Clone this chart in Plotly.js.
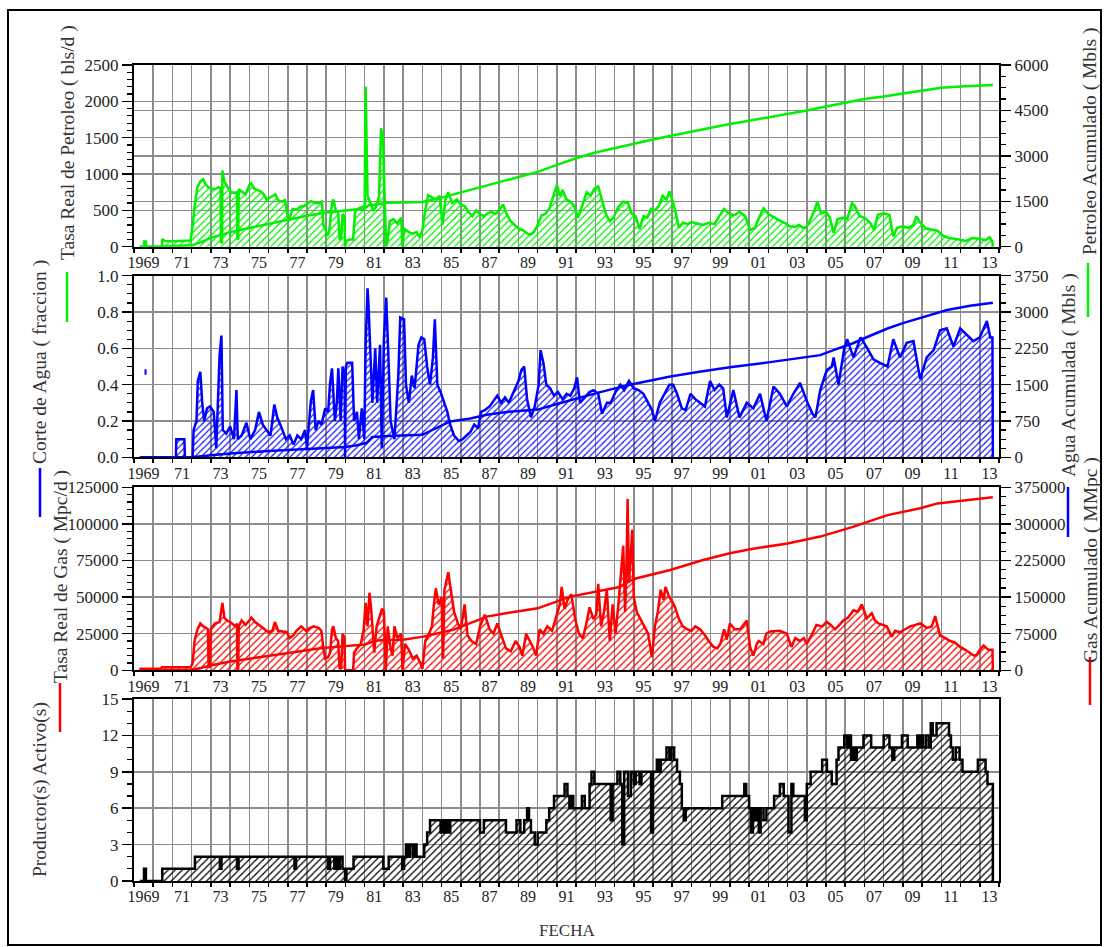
<!DOCTYPE html>
<html>
<head>
<meta charset="utf-8">
<script src="https://cdn.plot.ly/plotly-3.0.1.min.js"></script>
<style>
html,body{margin:0;padding:0;background:#fff;}
#chart{width:1104px;height:947px;}
</style>
</head>
<body>
<div id="chart"></div>
<script>
// ---------------- DATA ----------------
// x tick labels (centered in each odd year)
const yearLabelPos = [1969.5,1971.5,1973.5,1975.5,1977.5,1979.5,1981.5,1983.5,1985.5,1987.5,1989.5,1991.5,1993.5,1995.5,1997.5,1999.5,2001.5,2003.5,2005.5,2007.5,2009.5,2011.5,2013.5];
const yearLabelText = ['1969','71','73','75','77','79','81','83','85','87','89','91','93','95','97','99','01','03','05','07','09','11','13'];

// Tasa Real de Petroleo (bls/d) [year, value]
const oilRate = [[1969.30,0],[1969.52,0],[1969.53,70],[1969.62,70],[1969.63,0],[1970.46,0],[1970.47,105],[1970.60,80],[1971.00,75],[1971.50,80],[1971.95,85],[1972.05,300],[1972.15,550],[1972.30,820],[1972.45,900],[1972.60,930],[1972.70,870],[1972.85,820],[1973.00,800],[1973.20,790],[1973.40,820],[1973.50,810],[1973.53,50],[1973.58,60],[1973.60,1050],[1973.70,900],[1973.85,820],[1974.00,760],[1974.20,740],[1974.36,750],[1974.38,100],[1974.42,110],[1974.45,790],[1974.60,760],[1974.80,720],[1975.00,850],[1975.10,870],[1975.25,800],[1975.40,780],[1975.60,760],[1975.75,720],[1975.90,650],[1976.10,680],[1976.35,720],[1976.50,640],[1976.70,620],[1976.85,640],[1977.00,420],[1977.10,400],[1977.25,520],[1977.45,510],[1977.65,550],[1977.85,560],[1978.05,600],[1978.20,630],[1978.40,600],[1978.60,600],[1978.78,620],[1978.85,300],[1978.95,250],[1979.05,150],[1979.15,200],[1979.30,600],[1979.37,650],[1979.50,500],[1979.62,480],[1979.70,100],[1979.78,120],[1979.85,450],[1979.95,420],[1979.98,0],[1980.05,80],[1980.20,100],[1980.40,100],[1980.50,480],[1980.65,520],[1980.85,540],[1981.00,560],[1981.05,2200],[1981.10,1500],[1981.15,700],[1981.30,600],[1981.45,500],[1981.60,550],[1981.75,700],[1981.85,1630],[1981.95,1500],[1982.05,600],[1982.12,0],[1982.20,100],[1982.30,350],[1982.50,380],[1982.70,320],[1982.90,400],[1982.97,0],[1983.05,250],[1983.30,200],[1983.50,180],[1983.70,200],[1983.85,130],[1984.00,220],[1984.15,500],[1984.30,710],[1984.50,680],[1984.70,650],[1984.90,700],[1985.05,300],[1985.20,650],[1985.35,750],[1985.55,600],[1985.80,650],[1986.00,580],[1986.20,560],[1986.40,480],[1986.60,420],[1986.80,500],[1987.00,450],[1987.20,420],[1987.40,460],[1987.60,480],[1987.80,450],[1988.00,500],[1988.20,580],[1988.40,440],[1988.60,350],[1988.80,300],[1989.00,250],[1989.20,230],[1989.40,200],[1989.60,160],[1989.80,200],[1990.00,300],[1990.20,430],[1990.40,450],[1990.60,520],[1990.80,680],[1991.00,850],[1991.15,700],[1991.30,780],[1991.50,650],[1991.70,620],[1991.90,560],[1992.10,400],[1992.30,550],[1992.55,750],[1992.75,700],[1992.95,800],[1993.15,830],[1993.35,650],[1993.55,450],[1993.75,350],[1993.95,400],[1994.20,550],[1994.45,620],[1994.70,600],[1994.90,450],[1995.10,420],[1995.30,240],[1995.50,420],[1995.70,400],[1995.90,520],[1996.10,500],[1996.30,560],[1996.50,700],[1996.70,650],[1996.85,760],[1997.00,650],[1997.20,450],[1997.35,260],[1997.55,330],[1997.80,310],[1998.00,340],[1998.30,320],[1998.60,300],[1998.90,330],[1999.20,310],[1999.45,420],[1999.70,520],[1999.90,470],[2000.20,430],[2000.50,480],[2000.80,420],[2001.05,230],[2001.30,260],[2001.55,420],[2001.75,530],[2002.00,450],[2002.30,400],[2002.60,360],[2002.90,320],[2003.10,280],[2003.40,270],[2003.60,300],[2003.80,260],[2004.00,270],[2004.20,380],[2004.40,500],[2004.55,620],[2004.75,460],[2005.00,480],[2005.20,400],[2005.40,190],[2005.60,380],[2005.90,400],[2006.10,380],[2006.35,600],[2006.50,560],[2006.75,420],[2007.00,400],[2007.30,330],[2007.50,230],[2007.70,440],[2008.00,460],[2008.30,440],[2008.50,140],[2008.70,260],[2009.00,280],[2009.30,260],[2009.55,300],[2009.70,420],[2009.90,330],[2010.20,250],[2010.50,230],[2010.80,220],[2011.10,150],[2011.40,120],[2011.70,110],[2012.00,90],[2012.30,80],[2012.60,120],[2013.00,110],[2013.30,90],[2013.50,130],[2013.65,80],[2013.68,0]];

// Petroleo Acumulado (Mbls)
const oilCum = [[1969.30,0],[1970.50,5],[1972.00,45],[1972.50,150],[1973.00,290],[1973.50,390],[1974.00,480],[1975.00,620],[1976.00,760],[1977.00,900],[1978.00,1020],[1979.00,1130],[1980.00,1200],[1980.50,1220],[1981.00,1260],[1981.20,1360],[1981.90,1430],[1982.20,1450],[1983.00,1460],[1984.00,1480],[1985.00,1620],[1986.00,1790],[1987.00,1960],[1988.00,2130],[1989.00,2300],[1990.00,2470],[1991.00,2700],[1992.00,2920],[1993.00,3110],[1994.00,3260],[1995.00,3400],[1996.00,3540],[1997.00,3670],[1998.00,3800],[1999.00,3920],[2000.00,4050],[2001.00,4160],[2002.00,4270],[2003.00,4380],[2004.00,4500],[2005.00,4630],[2006.00,4760],[2007.00,4880],[2008.00,4960],[2009.00,5060],[2010.00,5160],[2011.00,5250],[2012.00,5290],[2013.00,5320],[2013.68,5340]];

// Corte de Agua (fraccion)
const waterCut = [[1969.30,0],[1971.18,0],[1971.20,0.10],[1971.62,0.10],[1971.65,0],[1972.05,0],[1972.10,0.15],[1972.25,0.20],[1972.32,0.42],[1972.45,0.47],[1972.55,0.30],[1972.65,0.20],[1972.80,0.27],[1972.95,0.28],[1973.15,0.25],[1973.28,0.05],[1973.35,0.26],[1973.45,0.56],[1973.55,0.67],[1973.62,0.15],[1973.80,0.13],[1974.00,0.17],[1974.20,0.10],[1974.33,0.37],[1974.40,0.10],[1974.60,0.12],[1974.85,0.19],[1975.05,0.10],[1975.30,0.15],[1975.50,0.25],[1975.70,0.18],[1975.90,0.15],[1976.10,0.12],[1976.30,0.29],[1976.45,0.22],[1976.65,0.17],[1976.90,0.10],[1977.10,0.12],[1977.30,0.07],[1977.50,0.12],[1977.70,0.10],[1977.90,0.15],[1978.00,0.05],[1978.20,0.31],[1978.32,0.37],[1978.45,0.15],[1978.60,0.20],[1978.75,0.18],[1978.95,0.27],[1979.10,0.25],[1979.20,0.41],[1979.30,0.49],[1979.45,0.20],[1979.55,0.30],[1979.63,0.49],[1979.75,0.20],[1979.85,0.50],[1979.96,0.45],[1979.98,0],[1980.02,0.50],[1980.10,0.52],[1980.35,0.52],[1980.45,0.20],[1980.60,0.25],[1980.70,0.10],[1980.85,0.27],[1980.98,0.10],[1981.05,0.62],[1981.15,0.93],[1981.20,0.84],[1981.30,0.55],[1981.40,0.30],[1981.55,0.60],[1981.65,0.30],[1981.80,0.62],[1981.89,0.05],[1982.00,0.65],[1982.12,0.88],[1982.22,0.60],[1982.35,0.20],[1982.55,0.10],[1982.75,0.45],[1982.85,0.77],[1983.05,0.76],[1983.15,0.40],[1983.30,0.30],[1983.45,0.45],[1983.60,0.38],[1983.80,0.62],[1983.95,0.66],[1984.10,0.65],[1984.25,0.50],[1984.40,0.40],[1984.55,0.55],[1984.65,0.76],[1984.78,0.40],[1984.95,0.36],[1985.15,0.30],[1985.30,0.25],[1985.45,0.18],[1985.65,0.12],[1985.90,0.09],[1986.10,0.10],[1986.30,0.12],[1986.50,0.14],[1986.70,0.18],[1986.90,0.16],[1987.05,0.25],[1987.25,0.26],[1987.50,0.28],[1987.70,0.31],[1987.90,0.34],[1988.10,0.30],[1988.30,0.33],[1988.50,0.30],[1988.75,0.36],[1989.00,0.42],[1989.15,0.48],[1989.30,0.50],[1989.45,0.32],[1989.65,0.22],[1989.85,0.28],[1990.05,0.40],[1990.15,0.59],[1990.30,0.52],[1990.45,0.40],[1990.65,0.38],[1990.85,0.34],[1991.05,0.36],[1991.30,0.32],[1991.50,0.35],[1991.70,0.34],[1991.90,0.38],[1992.05,0.44],[1992.20,0.30],[1992.45,0.33],[1992.70,0.36],[1992.90,0.37],[1993.15,0.35],[1993.35,0.24],[1993.60,0.30],[1993.80,0.30],[1994.05,0.36],[1994.30,0.40],[1994.50,0.37],[1994.75,0.42],[1995.00,0.38],[1995.25,0.37],[1995.50,0.35],[1995.75,0.30],[1995.95,0.26],[1996.10,0.20],[1996.35,0.30],[1996.60,0.35],[1996.85,0.40],[1997.05,0.40],[1997.25,0.35],[1997.50,0.27],[1997.70,0.26],[1997.95,0.35],[1998.20,0.32],[1998.45,0.30],[1998.70,0.28],[1998.97,0.42],[1999.20,0.37],[1999.45,0.40],[1999.65,0.38],[1999.84,0.22],[2000.00,0.30],[2000.18,0.37],[2000.50,0.22],[2000.88,0.30],[2001.22,0.27],[2001.57,0.35],[2001.90,0.20],[2002.27,0.39],[2002.60,0.35],[2002.96,0.28],[2003.30,0.35],[2003.65,0.41],[2004.00,0.31],[2004.30,0.24],[2004.45,0.22],[2004.70,0.37],[2005.04,0.48],[2005.30,0.50],[2005.40,0.55],[2005.65,0.40],[2005.95,0.60],[2006.10,0.65],[2006.43,0.55],[2006.80,0.66],[2007.10,0.61],[2007.47,0.54],[2007.80,0.52],[2008.20,0.50],[2008.50,0.65],[2008.85,0.55],[2009.20,0.63],[2009.55,0.64],[2009.90,0.43],[2010.24,0.55],[2010.60,0.59],[2010.93,0.70],[2011.28,0.71],[2011.63,0.61],[2011.98,0.71],[2012.30,0.68],[2012.67,0.64],[2013.00,0.66],[2013.37,0.75],[2013.55,0.66],[2013.66,0.66],[2013.68,0]];
const waterCutIsolated = [[1969.60,0.47]];

// Agua Acumulada (Mbls)
const waterCum = [[1969.30,0],[1972.00,0],[1973.00,40],[1974.00,80],[1976.00,130],[1978.00,170],[1979.00,190],[1980.00,215],[1980.60,250],[1981.10,300],[1981.40,420],[1982.20,440],[1984.00,465],[1984.75,605],[1985.45,740],[1986.50,800],[1987.35,880],[1988.50,940],[1990.00,985],[1991.00,1100],[1992.00,1210],[1993.10,1330],[1994.80,1500],[1996.90,1670],[1998.50,1770],[2000.00,1860],[2002.00,1960],[2004.00,2060],[2004.70,2110],[2005.50,2230],[2006.40,2355],[2007.30,2510],[2008.20,2660],[2009.00,2770],[2009.90,2870],[2011.30,3040],[2012.50,3130],[2013.68,3190]];

// Tasa Real de Gas (Mpc/d)
const gasRate = [[1969.30,0],[1969.35,1000],[1970.40,1000],[1970.45,2000],[1971.95,2000],[1972.05,5000],[1972.15,20000],[1972.30,28000],[1972.45,32000],[1972.60,30000],[1972.75,29000],[1972.85,28000],[1972.88,2000],[1972.95,3000],[1973.00,28000],[1973.20,32000],[1973.45,33000],[1973.60,46000],[1973.70,36000],[1973.85,34000],[1974.00,33000],[1974.30,30000],[1974.36,32000],[1974.38,0],[1974.42,1000],[1974.45,30000],[1974.60,34000],[1974.80,31000],[1975.00,34000],[1975.10,36000],[1975.30,33000],[1975.50,31000],[1975.75,28000],[1976.00,26000],[1976.20,27000],[1976.33,33000],[1976.50,27000],[1976.70,26500],[1976.95,26000],[1977.10,22000],[1977.30,24000],[1977.45,27000],[1977.70,30000],[1977.95,27000],[1978.15,29000],[1978.35,30000],[1978.60,29000],[1978.75,27000],[1978.85,15000],[1978.95,8000],[1979.10,9000],[1979.20,12000],[1979.30,28000],[1979.37,30000],[1979.50,22000],[1979.62,20000],[1979.70,1000],[1979.78,2000],[1979.85,25000],[1979.95,22000],[1979.98,0],[1980.40,0],[1980.45,12000],[1980.60,15000],[1980.80,18000],[1980.95,28000],[1981.05,46000],[1981.15,30000],[1981.25,53000],[1981.35,40000],[1981.50,12000],[1981.62,30000],[1981.75,35000],[1981.90,42000],[1982.00,40000],[1982.10,0],[1982.20,30000],[1982.35,15000],[1982.45,10000],[1982.55,30000],[1982.70,22000],[1982.90,25000],[1982.97,0],[1983.10,18000],[1983.30,14000],[1983.50,8000],[1983.70,10000],[1983.90,5000],[1984.00,1000],[1984.15,20000],[1984.35,25000],[1984.50,30000],[1984.60,45000],[1984.70,56000],[1984.85,45000],[1985.00,50000],[1985.08,8000],[1985.15,55000],[1985.35,67000],[1985.50,55000],[1985.65,40000],[1985.85,32000],[1986.00,28000],[1986.20,45000],[1986.35,24000],[1986.55,20000],[1986.80,18000],[1987.00,30000],[1987.25,38000],[1987.50,28000],[1987.70,25000],[1987.90,32000],[1988.10,24000],[1988.35,15000],[1988.60,13000],[1988.85,20000],[1989.05,16000],[1989.20,10000],[1989.40,25000],[1989.60,20000],[1989.75,16000],[1989.92,10000],[1990.10,28000],[1990.30,25000],[1990.50,30000],[1990.75,27000],[1991.00,39000],[1991.15,45000],[1991.25,57000],[1991.40,42000],[1991.55,48000],[1991.75,52000],[1991.95,35000],[1992.15,25000],[1992.35,22000],[1992.50,30000],[1992.70,43000],[1992.90,35000],[1993.05,38000],[1993.15,59000],[1993.30,30000],[1993.45,40000],[1993.60,55000],[1993.75,20000],[1993.90,45000],[1994.05,25000],[1994.20,45000],[1994.30,62000],[1994.45,85000],[1994.55,40000],[1994.62,70000],[1994.68,117000],[1994.75,60000],[1994.85,80000],[1994.92,96000],[1995.00,50000],[1995.15,40000],[1995.35,35000],[1995.55,30000],[1995.75,25000],[1995.94,9000],[1996.10,30000],[1996.25,40000],[1996.40,55000],[1996.55,48000],[1996.65,57000],[1996.85,50000],[1997.00,47000],[1997.15,43000],[1997.35,35000],[1997.55,30000],[1997.80,28000],[1998.00,27000],[1998.20,30000],[1998.45,28000],[1998.70,24000],[1998.90,20000],[1999.14,16000],[1999.35,15000],[1999.50,18000],[1999.70,28000],[1999.84,21000],[2000.00,32000],[2000.25,28000],[2000.53,28000],[2000.88,34000],[2001.05,16000],[2001.22,10000],[2001.40,18000],[2001.50,20000],[2001.74,18000],[2001.90,25000],[2002.10,26500],[2002.35,27000],[2002.60,27000],[2002.96,25000],[2003.20,16000],[2003.40,22000],[2003.65,20000],[2003.85,22000],[2004.00,18000],[2004.25,24000],[2004.50,31000],[2004.80,30000],[2005.04,33000],[2005.25,31000],[2005.47,28000],[2005.70,31000],[2005.90,34000],[2006.15,36000],[2006.43,41000],[2006.65,40000],[2006.86,45000],[2007.00,40000],[2007.12,35500],[2007.38,39000],[2007.55,34000],[2007.73,32000],[2007.95,31000],[2008.16,30000],[2008.42,23000],[2008.60,27000],[2008.85,26000],[2009.10,28000],[2009.38,30000],[2009.65,31000],[2009.90,32000],[2010.24,29000],[2010.50,30000],[2010.68,37000],[2010.80,30000],[2010.93,24000],[2011.20,22000],[2011.46,20000],[2011.70,19000],[2011.98,16000],[2012.25,14000],[2012.50,12000],[2012.70,10000],[2012.84,10500],[2013.00,14000],[2013.20,17000],[2013.45,14000],[2013.66,14000],[2013.68,0]];

// Gas Acumulado (MMpc)
const gasCum = [[1969.30,0],[1972.00,1000],[1972.50,5000],[1973.10,11000],[1974.00,18000],[1975.00,24000],[1976.00,30000],[1977.10,36000],[1978.00,41000],[1978.70,45000],[1979.50,48000],[1980.10,50000],[1980.60,51000],[1981.00,53000],[1981.50,60000],[1982.00,62000],[1983.00,62500],[1984.05,69000],[1985.60,83000],[1986.50,97000],[1987.35,110000],[1988.50,118000],[1990.00,127000],[1991.70,151000],[1993.40,164600],[1994.20,170000],[1994.90,185000],[1995.15,188500],[1996.90,205600],[1998.60,226000],[2000.00,240000],[2001.20,249000],[2003.00,260000],[2004.70,274000],[2006.40,294000],[2008.20,318000],[2009.90,332000],[2010.80,342000],[2011.60,345600],[2013.68,354500]];

// Productor(s) Activo(s) (step data)
const producers = [[1969.30,0],[1969.52,1],[1969.62,0],[1970.47,1],[1972.17,2],[1973.47,1],[1973.55,2],[1974.36,1],[1974.44,2],[1977.35,1],[1977.43,2],[1979.10,1],[1979.20,2],[1979.42,1],[1979.50,2],[1979.62,1],[1979.70,2],[1979.85,1],[1979.98,0],[1980.05,1],[1980.42,2],[1981.97,1],[1982.25,2],[1982.95,1],[1983.05,2],[1983.15,3],[1983.25,2],[1983.35,3],[1983.50,2],[1983.60,3],[1983.70,2],[1984.10,3],[1984.25,4],[1984.40,5],[1984.95,4],[1985.05,5],[1985.15,4],[1985.25,5],[1985.35,4],[1985.45,5],[1987.00,4],[1987.20,5],[1988.35,4],[1988.90,5],[1989.10,4],[1989.30,5],[1989.45,6],[1989.55,5],[1989.65,4],[1989.85,3],[1990.00,4],[1990.45,5],[1990.60,6],[1990.85,7],[1991.40,8],[1991.55,7],[1991.65,6],[1991.75,7],[1991.85,6],[1992.30,7],[1992.45,6],[1992.70,8],[1992.80,9],[1992.95,8],[1993.80,5],[1993.90,8],[1994.15,9],[1994.30,8],[1994.40,3],[1994.50,9],[1994.70,7],[1994.85,9],[1995.00,8],[1995.10,9],[1995.30,8],[1995.40,9],[1995.90,4],[1996.00,9],[1996.20,10],[1996.30,9],[1996.40,10],[1996.70,11],[1996.85,10],[1996.95,11],[1997.10,10],[1997.25,9],[1997.40,8],[1997.50,6],[1997.60,5],[1997.70,6],[1999.60,7],[2000.75,8],[2000.85,7],[2001.00,6],[2001.10,4],[2001.20,6],[2001.30,5],[2001.40,6],[2001.50,4],[2001.60,6],[2001.75,5],[2001.90,6],[2002.30,7],[2002.60,8],[2002.80,7],[2003.05,4],[2003.20,8],[2003.30,7],[2003.90,5],[2004.00,8],[2004.20,9],[2004.80,10],[2005.05,9],[2005.30,8],[2005.55,10],[2005.65,11],[2005.95,12],[2006.10,11],[2006.20,12],[2006.30,10],[2006.40,11],[2006.50,10],[2006.60,11],[2006.95,12],[2007.35,11],[2008.00,12],[2008.30,11],[2008.45,10],[2008.55,11],[2008.95,12],[2009.25,11],[2009.75,12],[2009.85,11],[2009.95,12],[2010.05,11],[2010.20,12],[2010.35,11],[2010.45,13],[2010.55,12],[2010.75,13],[2011.40,12],[2011.50,11],[2011.60,10],[2011.75,11],[2011.95,10],[2012.10,9],[2012.90,10],[2013.30,9],[2013.40,8],[2013.68,0]];

// ---------------- LAYOUT HELPERS ----------------
const FONT = 'Liberation Serif, Times New Roman, serif';
const GRID = '#8c8c8c';
const L = 134, R = 999, T = 65, B = 881;
const W = R - L, H = B - T;
const px = x => (x - L) / W;
const py = y => (B - y) / H;
const dom = (top, bottom) => [py(bottom), py(top)];
const xs = a => a.map(p => p[0]);
const ys = a => a.map(p => p[1]);

const GREEN = '#00f000', BLUE = '#0000ff', RED = '#ff0000', BLACK = '#000000';

function xAxis(anchor) {
  return {
    anchor: anchor, domain: [0, 1], range: [1969, 2014],
    tickmode: 'array', tickvals: yearLabelPos, ticktext: yearLabelText,
    ticks: '', showgrid: false, zeroline: false,
    showline: true, linecolor: '#000', linewidth: 2, mirror: true,
    tickfont: {family: FONT, size: 16, color: '#222'},
    minor: {tickmode: 'linear', tick0: 1969, dtick: 1, ticks: 'outside', ticklen: 4,
            tickwidth: 1.5, tickcolor: '#000', showgrid: true, gridcolor: GRID, gridwidth: 1.5},
    fixedrange: true
  };
}
function yAxis(opts) {
  return Object.assign({
    ticks: 'outside', ticklen: 10, tickwidth: 1.5, tickcolor: '#000',
    showline: true, linecolor: '#000', linewidth: 2,
    showgrid: true, gridcolor: GRID, gridwidth: 1.5, zeroline: false,
    tick0: 0, tickformat: 'd', tickfont: {family: FONT, size: 17, color: '#222'},
    fixedrange: true
  }, opts);
}
const minorT = d => ({tick0: 0, dtick: d, ticks: 'outside', ticklen: 5, tickwidth: 1.2, tickcolor: '#000', showgrid: false});

function rateTrace(data, xa, ya, color, shape, psize) {
  return {
    x: xs(data), y: ys(data), xaxis: xa, yaxis: ya, type: 'scatter', mode: 'lines',
    line: {color: color, width: 2.5, shape: shape || 'linear'},
    fill: 'tozeroy',
    fillpattern: {shape: '/', fgcolor: color, size: psize || 5, solidity: 0.25},
    hoverinfo: 'skip', showlegend: false
  };
}
function cumTrace(data, xa, ya, color) {
  return {
    x: xs(data), y: ys(data), xaxis: xa, yaxis: ya, type: 'scatter', mode: 'lines',
    line: {color: color, width: 2.5}, hoverinfo: 'skip', showlegend: false
  };
}

const traces = [
  rateTrace(oilRate, 'x', 'y', GREEN),
  cumTrace(oilCum, 'x', 'y5', GREEN),
  rateTrace(waterCut, 'x2', 'y2', BLUE, 'linear', 4.5),
  {x: xs(waterCutIsolated), y: ys(waterCutIsolated), xaxis: 'x2', yaxis: 'y2', type: 'scatter', mode: 'markers',
   marker: {symbol: 'line-ns', size: 4, line: {color: BLUE, width: 2}}, hoverinfo: 'skip', showlegend: false},
  cumTrace(waterCum, 'x2', 'y6', BLUE),
  rateTrace(gasRate, 'x3', 'y3', RED),
  cumTrace(gasCum, 'x3', 'y7', RED),
  rateTrace(producers, 'x4', 'y4', BLACK, 'hv', 5)
];

const titleFont = {family: FONT, size: 19.5, color: '#333'};
function ann(text, x, y, angle, size) {
  return {text: text, xref: 'paper', yref: 'paper', x: px(x), y: py(y), xanchor: 'center', yanchor: 'middle',
          showarrow: false, textangle: angle, font: Object.assign({}, titleFont, size ? {size: size} : {})};
}
function vline(x, y0, y1, color) {
  return {type: 'line', xref: 'paper', yref: 'paper', x0: px(x), x1: px(x), y0: py(y0), y1: py(y1),
          line: {color: color, width: 2.5}};
}

const layout = {
  width: 1104, height: 947,
  margin: {l: L, r: 1104 - R, t: T, b: 947 - B, pad: 0},
  paper_bgcolor: '#fff', plot_bgcolor: '#fff',
  showlegend: false,
  xaxis: xAxis('y'),
  xaxis2: xAxis('y2'),
  xaxis3: xAxis('y3'),
  xaxis4: xAxis('y4'),
  yaxis: yAxis({anchor: 'x', domain: dom(65, 246.7), range: [0, 2500], dtick: 500, minor: minorT(100)}),
  yaxis5: yAxis({anchor: 'x', overlaying: 'y', side: 'right', range: [0, 6000], dtick: 1500, minor: minorT(375)}),
  yaxis2: yAxis({anchor: 'x2', domain: dom(275.7, 457.3), range: [0, 1], dtick: 0.2, tickformat: '.1f', minor: minorT(0.05)}),
  yaxis6: yAxis({anchor: 'x2', overlaying: 'y2', side: 'right', range: [0, 3750], dtick: 750, minor: minorT(187.5)}),
  yaxis3: yAxis({anchor: 'x3', domain: dom(487.3, 670.3), range: [0, 125000], dtick: 25000, minor: minorT(5000)}),
  yaxis7: yAxis({anchor: 'x3', overlaying: 'y3', side: 'right', range: [0, 375000], dtick: 75000, minor: minorT(18750)}),
  yaxis4: yAxis({anchor: 'x4', domain: dom(699, 881), range: [0, 15], dtick: 3, mirror: true, minor: minorT(1)}),
  annotations: [
    ann('Tasa Real de Petroleo ( bls/d )', 68, 143, -90),
    ann('Corte de Agua ( fraccion )', 40, 362, -90),
    ann('Tasa Real de Gas ( Mpc/d )', 61, 577, -90),
    ann('Productor(s) Activo(s)', 40, 790, -90),
    ann('Petroleo Acumulado ( Mbls )', 1090, 142, -90),
    ann('Agua Acumulada ( Mbls )', 1069, 375, -90),
    ann('Gas Acumulado ( MMpc )', 1091, 560, -90),
    ann('FECHA', 567, 930, 0, 17)
  ],
  shapes: [
    {type: 'rect', xref: 'paper', yref: 'paper', x0: px(8), x1: px(1101), y0: py(945), y1: py(10),
     line: {color: '#000', width: 2}, fillcolor: 'rgba(0,0,0,0)', layer: 'below'},
    vline(67, 272, 322, GREEN),
    vline(40, 468, 517, BLUE),
    vline(60, 683, 732, RED),
    vline(1088, 263, 317, GREEN),
    vline(1068, 487, 537, BLUE),
    vline(1090, 657, 705, RED)
  ]
};

Plotly.newPlot('chart', traces, layout, {staticPlot: true, displayModeBar: false});
</script>
</body>
</html>
